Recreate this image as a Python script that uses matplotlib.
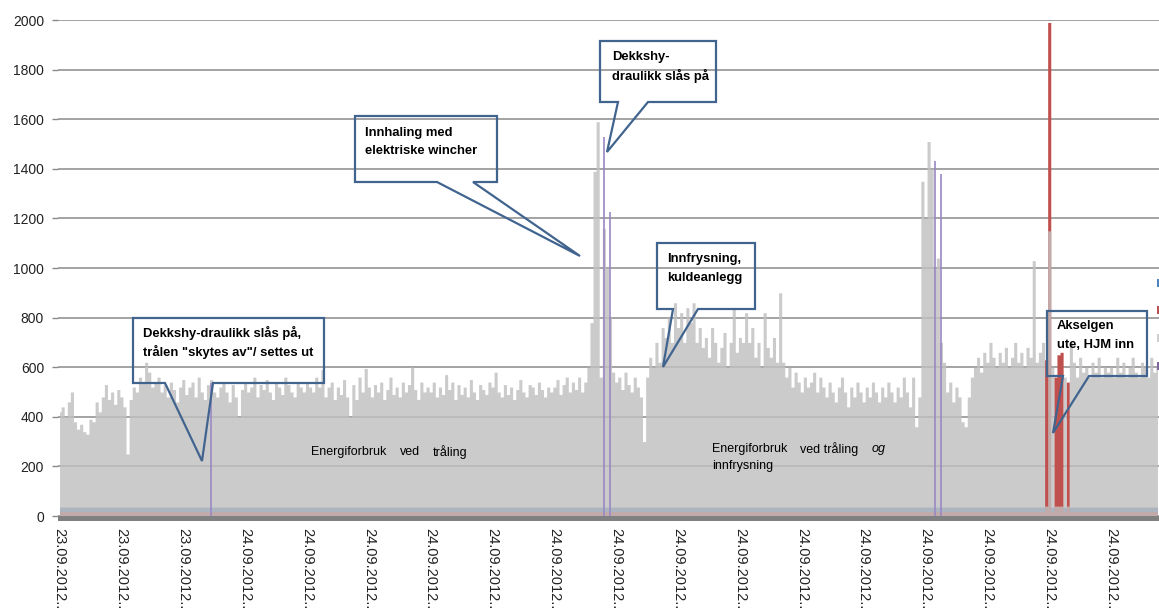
import numpy as np
import matplotlib
matplotlib.use('Agg')
import matplotlib.pyplot as plt
from matplotlib.patches import Polygon, Rectangle

plt.rcParams['font.family'] = ['Liberation Sans', 'DejaVu Sans']

# energiforbruk (grå serie), 20 målinger mellom hver akseetikett
gray_a = [420, 440, 400, 460, 500, 380, 350, 370, 340, 330, 390, 380, 460, 420, 480, 530, 470, 500, 450, 510,
          480, 440, 250, 470, 520, 500, 560, 540, 620, 580, 520, 540, 560, 500, 530, 480, 540, 510, 460, 520,
          550, 490, 520, 540, 480, 560, 500, 470, 530, 550, 500, 480, 520, 540, 500, 460, 530, 480, 400, 510,
          540, 500, 520, 560, 480, 530, 510, 550, 500, 470, 540, 520, 490, 560, 530, 500, 480, 540, 520, 500,
          540, 520, 500, 560, 520, 590, 480, 520, 540, 470, 520, 490, 550, 480, 400, 530, 470, 560, 500, 595,
          520, 480, 530, 500, 540, 470, 510, 560, 490, 520, 480, 540, 500, 530, 600, 510, 470, 540, 500, 520]
gray_b = [500, 540, 480, 520, 490, 570, 510, 540, 470, 530, 490, 520, 480, 550, 500, 470, 530, 510, 490, 540,
          520, 580, 500, 480, 530, 490, 520, 470, 510, 550, 500, 480, 530, 520, 490, 540, 510, 480, 520, 500,
          520, 550, 490, 530, 560, 500, 540, 510, 560, 500, 540, 600, 780, 1390, 1590, 560, 1160, 1000, 800, 580,
          540, 560, 510, 580, 530, 500, 560, 520, 480, 300, 560, 640, 600, 700, 620, 760, 720, 800, 700, 860,
          760, 820, 700, 840, 780, 860, 700, 760, 680, 720, 640, 760, 700, 620, 680, 740, 600, 700, 840, 660,
          720, 700, 820, 700, 760, 640, 700, 600, 820, 680, 640, 720, 620, 900, 620, 560, 600, 520, 580, 540]
gray_c = [500, 560, 520, 540, 580, 500, 560, 520, 480, 540, 500, 460, 520, 560, 500, 440, 520, 480, 540, 500,
          460, 520, 480, 540, 500, 460, 520, 480, 540, 500, 460, 520, 480, 560, 500, 440, 560, 360, 480, 1350,
          1200, 1510, 1400, 1000, 1040, 700, 620, 500, 540, 460, 520, 480, 380, 360, 480, 560, 600, 640, 580, 660,
          620, 700, 640, 600, 660, 620, 680, 600, 640, 700, 620, 660, 600, 680, 640, 1030, 620, 660, 700, 40,
          1150, 600, 40, 40, 40, 560, 40, 700, 620, 560, 640, 580, 600, 560, 620, 580, 640, 560, 600, 580,
          600, 560, 640, 580, 620, 560, 600, 640, 580, 560, 620, 600, 560, 640, 580, 600]

# blå serie (lav, jevn), rød serie (HJM) med utslag når akselgeneratoren er ute
blue_level = 36
red_level = 18
red_burst = [630, 1990, 18, 560, 650, 660, 18, 540]
red_burst_start = 319

# lilla serie (dekkshydraulikk), enkeltmålinger
purple_idx = [49, 176, 178, 283, 285]
purple_vals = [536, 1530, 1225, 1430, 1380]

tick_labels = ['23.09.2012...'] * 3 + ['24.09.2012...'] * 15

gray = np.array(gray_a + gray_b + gray_c, dtype=float)
N = len(gray)
x = np.arange(N)
blue = np.full(N, blue_level, dtype=float)
red = np.full(N, red_level, dtype=float)
red[red_burst_start:red_burst_start + len(red_burst)] = red_burst

W, H = 1159, 608
fig = plt.figure(figsize=(W / 100, H / 100), dpi=100)
ax = fig.add_axes([58 / W, 1 - 516 / H, 1101 / W, 496 / H])


def fpx(px, py):
    return px / W, 1 - py / H


ax.fill_between(x, blue, step='mid', color='#4F81BD', lw=0, zorder=1)
ax.fill_between(x, red, step='mid', color='#C0504D', lw=0, zorder=2)
ax.fill_between(x, gray, step='mid', color='#c0c0c0', alpha=0.82, lw=0, zorder=3)
ax.vlines(purple_idx, 0, purple_vals, color='#9A88C4', lw=1.2, zorder=4)

ax.set_xlim(-0.5, N - 0.5)
ax.set_ylim(0, 2000)
ax.set_yticks(np.arange(0, 2001, 200))
ax.yaxis.grid(True, color='#8a8a8a', lw=1.1)
ax.set_axisbelow(True)
for s in ax.spines.values():
    s.set_visible(False)
ax.tick_params(axis='y', length=4, color='#8a8a8a', width=1, pad=6, labelsize=10, labelcolor='#222222')
ax.set_xticks(np.arange(0, N, 20))
ax.set_xticklabels(tick_labels, rotation=-90, fontsize=10.5, color='#222222')
ax.tick_params(axis='x', length=0, pad=9)

# mørk grå kant under nullinjen
fig.add_artist(Rectangle(fpx(58, 521), 1101 / W, 5 / H, transform=fig.transFigure,
                         color='#808080', lw=0))

# legende (avkuttet i høyre kant)
for col, py in zip(['#4F81BD', '#C0504D', '#D0D0D0', '#8064A2'], [283, 310, 338, 366]):
    fig.add_artist(Rectangle(fpx(1157, py + 4), 8 / W, 8 / H, transform=fig.transFigure,
                             color=col, lw=0))

callout_font = dict(fontweight='bold', fontsize=9.4, color='black', va='center', ha='left')


def callout(box, base, tip, lines, tx, ty, dy=18.5):
    x0, y0, x1, y1 = box
    pts = [(x0, y0), (x1, y0), (x1, y1), (base[1], y1), tip, (base[0], y1), (x0, y1)]
    fig.add_artist(Polygon([fpx(*p) for p in pts], closed=True, fill=False, ec='#41648F',
                           lw=1.6, joinstyle='miter', transform=fig.transFigure))
    for i, line in enumerate(lines):
        fig.text(*fpx(tx, ty + i * dy), line, **callout_font)


callout((133, 318, 324, 383), (165, 213), (202, 461),
        ['Dekkshy-draulikk slås på,', 'trålen "skytes av"/ settes ut'], 143, 333)
callout((355, 116, 497, 182), (437, 473), (580, 256),
        ['Innhaling med', 'elektriske wincher'], 365, 133)
callout((600, 41, 716, 102), (618, 648), (607, 152),
        ['Dekkshy-', 'draulikk slås på'], 612, 57)
callout((657, 243, 755, 309), (673, 698), (663, 367),
        ['Innfrysning,', 'kuldeanlegg'], 667, 259)
callout((1047, 311, 1147, 376), (1063, 1089), (1053, 433),
        ['Akselgen', 'ute, HJM inn'], 1057, 326)

body_font = dict(fontsize=9, color='black', va='center', ha='left')
fig.text(*fpx(311, 452), 'Energiforbruk', **body_font)
fig.text(*fpx(400, 452), 'ved', **body_font)
fig.text(*fpx(433, 452), 'tråling', **body_font)
fig.text(*fpx(712, 449), 'Energiforbruk', **body_font)
fig.text(*fpx(800, 449), 'ved tråling', **body_font)
fig.text(*fpx(872, 449), 'og', style='italic', **body_font)
fig.text(*fpx(712, 466), 'innfrysning', **body_font)

fig.savefig('out.png', dpi=100)
